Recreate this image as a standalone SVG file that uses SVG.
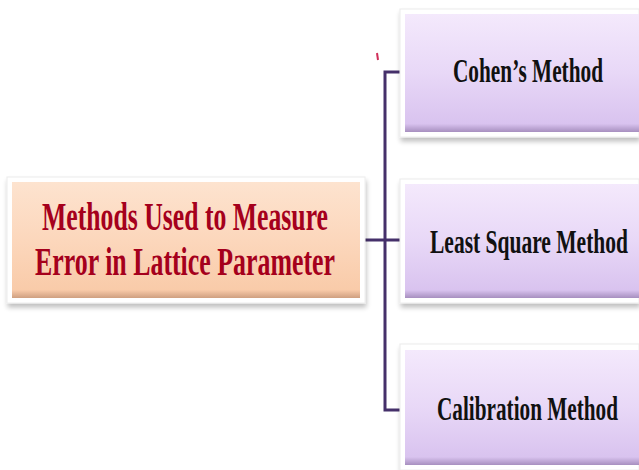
<svg xmlns="http://www.w3.org/2000/svg" width="639" height="470" viewBox="0 0 639 470">
<defs>
<linearGradient id="peach" x1="0" y1="0" x2="0" y2="1">
<stop offset="0" stop-color="#fde3cf"/>
<stop offset="0.5" stop-color="#fcd7bc"/>
<stop offset="0.93" stop-color="#f9cba9"/>
<stop offset="1" stop-color="#cf9f80"/>
</linearGradient>
<linearGradient id="lilac" x1="0" y1="0" x2="0" y2="1">
<stop offset="0" stop-color="#f4e9fc"/>
<stop offset="0.5" stop-color="#e8d8f7"/>
<stop offset="0.93" stop-color="#d9c3ef"/>
<stop offset="1" stop-color="#a78fbf"/>
</linearGradient>
<filter id="sh" x="-10%" y="-10%" width="120%" height="130%">
<feGaussianBlur in="SourceAlpha" stdDeviation="2.5"/>
<feOffset dx="1" dy="4" result="b"/>
<feComponentTransfer><feFuncA type="linear" slope="0.25"/></feComponentTransfer>
<feMerge><feMergeNode/><feMergeNode in="SourceGraphic"/></feMerge>
</filter>
</defs>
<style>
.frame{fill:#ffffff;stroke:#ececec;stroke-width:1}
.main{font-family:"Liberation Serif","Times New Roman",serif;font-weight:bold;font-size:41px;fill:#a5001c}
.lbl{font-family:"Liberation Serif","Times New Roman",serif;font-weight:bold;font-size:34px;fill:#111111}
.conn{fill:none;stroke:#45306a;stroke-width:3}
</style>
<rect width="639" height="470" fill="#ffffff"/>
<g id="connectors">
<path class="conn" d="M405,72 H385 V410 H405"/>
<path class="conn" d="M360,240 H405"/>
<path d="M377,53 L378,60" stroke="#d0305a" stroke-width="2" fill="none"/>
</g>
<g id="root">
<rect class="frame" x="7" y="177" width="358" height="126" filter="url(#sh)"/>
<rect x="12" y="182" width="348" height="116" fill="url(#peach)"/>
<text class="main" x="42" y="230" textLength="286" lengthAdjust="spacingAndGlyphs">Methods Used to Measure</text>
<text class="main" x="35" y="275" textLength="300" lengthAdjust="spacingAndGlyphs">Error in Lattice Parameter</text>
</g>
<g id="cohen">
<rect class="frame" x="400" y="9" width="239" height="128" filter="url(#sh)"/>
<rect x="405" y="14" width="234" height="118" fill="url(#lilac)"/>
<text class="lbl" x="453" y="82" textLength="150" lengthAdjust="spacingAndGlyphs">Cohen’s Method</text>
</g>
<g id="leastsquare">
<rect class="frame" x="400" y="179" width="239" height="124" filter="url(#sh)"/>
<rect x="405" y="184" width="234" height="114" fill="url(#lilac)"/>
<text class="lbl" x="430" y="253" textLength="198" lengthAdjust="spacingAndGlyphs">Least Square Method</text>
</g>
<g id="calibration">
<rect class="frame" x="400" y="344" width="239" height="126" filter="url(#sh)"/>
<rect x="405" y="350" width="234" height="115" fill="url(#lilac)"/>
<text class="lbl" x="437" y="420" textLength="181" lengthAdjust="spacingAndGlyphs">Calibration Method</text>
</g>
</svg>
